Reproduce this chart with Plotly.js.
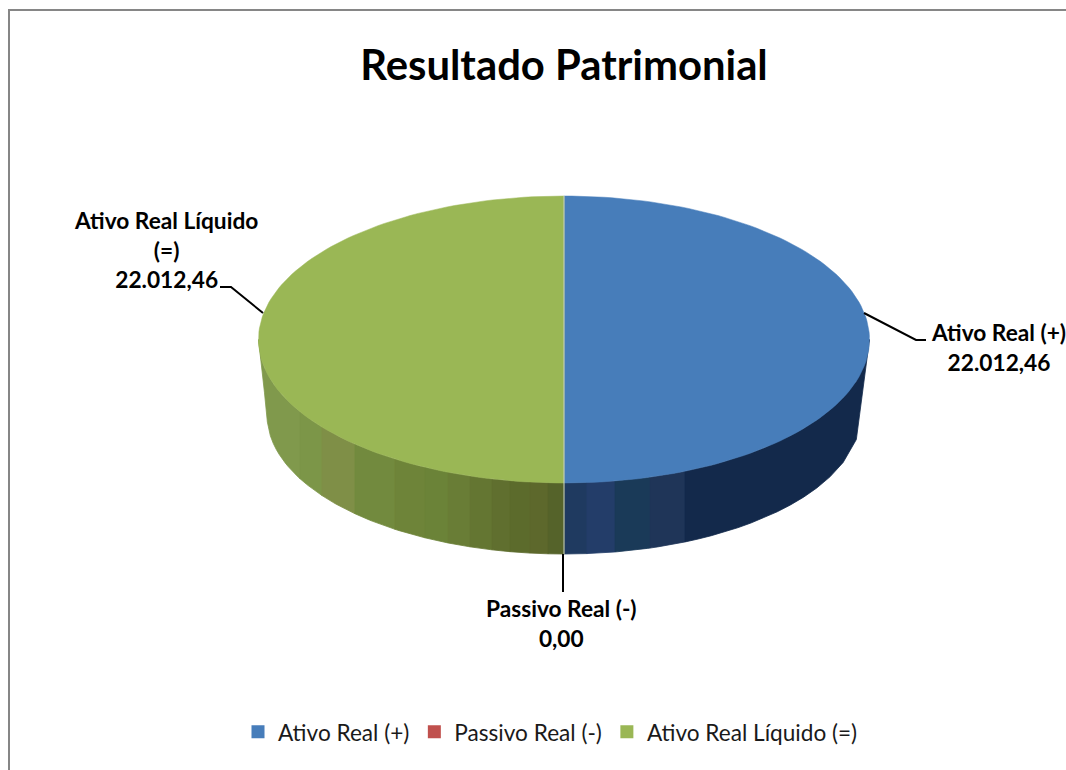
<!DOCTYPE html>
<html><head><meta charset="utf-8">
<script src="https://cdn.plot.ly/plotly-3.0.1.min.js"></script>
<style>html,body{margin:0;padding:0;background:#fff}#c{width:1066px;height:770px}</style>
</head><body><div id="c"></div><script>
const categories=["Ativo Real (+)","Passivo Real (-)","Ativo Real Líquido (=)"];
const values=[22012.46,0,22012.46];
const valueLabels=["22.012,46","0,00","22.012,46"];
const topColors=["#477dba","#c0504d","#9ab755"];
const sideBands=[
 ["#1f3a60","#233d69","#1a3a58","#1f3558","#13294b"],
 [],
 ["#80994c","#7c9648","#7f8f47","#728a3e","#6e8439","#6b8338","#697d36","#647632","#606f2f","#5c6b2c","#5d682c","#55632a"]
];
const sideEdges=[[564,587,615,650,685,870],[],[258,300,322,355,395,425,448,470,492,510,530,548,564]];
const cx=564,topCy=339.5,topRx=305.5,topRy=143.5,botCy=415,botRx=297,botRy=139;
const total=values.reduce((a,b)=>a+b,0);
const traces=[];
function pt(th){return [cx+topRx*Math.sin(th),topCy-topRy*Math.cos(th)];}
function yTop(x){const d=Math.min(1,Math.abs(x-cx)/topRx);return topCy+topRy*Math.sqrt(1-d*d);}
function yBot(x){const d=Math.abs(x-cx);
  if(d>=botRx){return Math.min(botCy,topCy+(Math.min(d,topRx)-topRx)/(botRx-topRx)*(botCy-topCy));}
  return botCy+botRy*Math.sqrt(1-d*d/(botRx*botRx));}
let start=0;const spans=values.map(v=>{const s=[start,start+v/total*2*Math.PI];start=s[1];return s;});
// side wall: vertical colour bands of every slice that reaches the front half
spans.forEach((sp,i)=>{
  if(Math.min(sp[1],1.5*Math.PI)<=Math.max(sp[0],Math.PI/2)||!sideBands[i].length)return;
  const edges=sideEdges[i];
  sideBands[i].forEach((color,b)=>{
    const xl=Math.max(edges[b],cx-topRx),xr=Math.min(edges[b+1],cx+topRx);
    const xs=[],ys=[],N=14;
    for(let k=0;k<=N;k++){const x=xl+(xr-xl)*k/N;xs.push(x);ys.push(yTop(x));}
    for(let k=N;k>=0;k--){const x=xl+(xr-xl)*k/N;xs.push(x);ys.push(yBot(x));}
    xs.push(xs[0]);ys.push(ys[0]);
    traces.push({x:xs,y:ys,mode:"lines",fill:"toself",fillcolor:color,line:{color:color,width:0.8},showlegend:false,hoverinfo:"skip"});
  });
});
// top faces
spans.forEach((sp,i)=>{
  if(sp[1]<=sp[0])return;
  const xs=[cx],ys=[topCy],N=120;
  for(let k=0;k<=N;k++){const p=pt(sp[0]+(sp[1]-sp[0])*k/N);xs.push(p[0]);ys.push(p[1]);}
  xs.push(cx);ys.push(topCy);
  traces.push({x:xs,y:ys,mode:"lines",fill:"toself",fillcolor:topColors[i],line:{color:topColors[i],width:0.5},showlegend:false,hovertext:categories[i],hoverinfo:"text"});
});
// slice boundary
traces.push({x:[cx,cx,cx],y:[topCy-topRy,topCy+topRy,botCy+botRy],mode:"lines",line:{color:"#c9d3c8",width:1},showlegend:false,hoverinfo:"skip"});
// leader lines
const leaders=[[[864,916,926],[313,340,340]],[[563,563],[554,592]],[[263,231,220],[313,287,287]]];
leaders.forEach(l=>traces.push({x:l[0],y:l[1],mode:"lines",line:{color:"#000",width:2},showlegend:false,hoverinfo:"skip"}));
// legend entries
categories.forEach((c,i)=>traces.push({x:[null],y:[null],mode:"markers",name:c,marker:{symbol:"square",size:13,color:topColors[i]},showlegend:true}));
const labelFont={family:"Lato, Carlito, sans-serif",size:22.7,color:"#000"};
const annotations=[
 {x:998,y:347,text:"<b>"+categories[0]+"<br>"+valueLabels[0]+"</b>"},
 {x:561,y:623,text:"<b>"+categories[1]+"<br>"+valueLabels[1]+"</b>"},
 {x:166,y:250,text:"<b>Ativo Real Líquido<br>(=)<br>"+valueLabels[2]+"</b>"}
].map(a=>Object.assign(a,{xref:"x",yref:"y",showarrow:false,align:"center",font:labelFont,xanchor:"center",yanchor:"middle"}));
const layout={width:1066,height:770,margin:{l:0,r:0,t:0,b:0},paper_bgcolor:"#fff",plot_bgcolor:"#fff",
 title:{text:"<b>Resultado Patrimonial</b>",font:{family:"Lato, Carlito, sans-serif",size:41.8,color:"#000"},x:564/1066,xanchor:"center",y:1-65/770,yanchor:"middle"},
 xaxis:{range:[0,1066],visible:false,fixedrange:true},
 yaxis:{range:[770,0],visible:false,fixedrange:true},
 legend:{orientation:"h",x:238/1066,y:1-732/770,xanchor:"left",yanchor:"middle",font:{family:"Lato, Carlito, sans-serif",size:22.6,color:"#1a1a1a"},bgcolor:"rgba(0,0,0,0)"},
 annotations,
 shapes:[{type:"path",xref:"x",yref:"y",path:"M 9 780 L 9 10 L 1075 10",line:{color:"#868686",width:2}}]
};
Plotly.newPlot("c",traces,layout,{displayModeBar:false});
</script></body></html>
